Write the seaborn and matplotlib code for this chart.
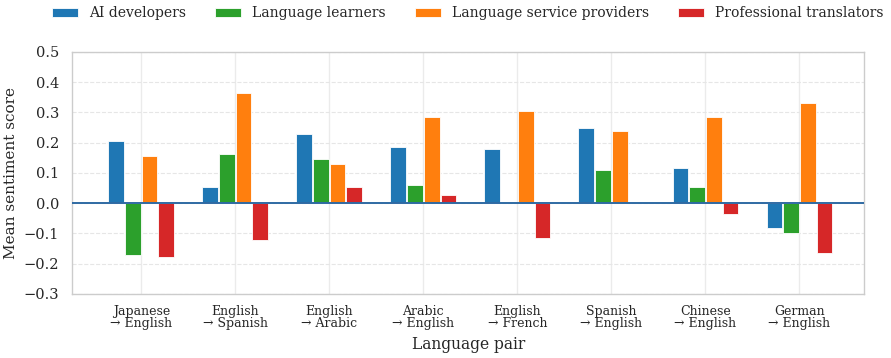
import numpy as np
import pandas as pd
import matplotlib
matplotlib.use("Agg")
import matplotlib.pyplot as plt
import seaborn as sns

pairs = ["Japanese\n→ English", "English\n→ Spanish", "English\n→ Arabic", "Arabic\n→ English",
         "English\n→ French", "Spanish\n→ English", "Chinese\n→ English", "German\n→ English"]
groups = ["AI developers", "Language learners", "Language service providers", "Professional translators"]
ai_dev = [0.205, 0.053, 0.228, 0.185, 0.180, 0.248, 0.115, -0.082]
learners = [-0.171, 0.161, 0.147, 0.060, np.nan, 0.110, 0.053, -0.098]
lsp = [0.156, 0.364, 0.131, 0.286, 0.304, 0.240, 0.285, 0.331]
translators = [-0.177, -0.123, 0.053, 0.026, -0.116, np.nan, -0.036, -0.164]
colors = ["#1f77b4", "#2ca02c", "#ff7f0e", "#d62728"]

rows = []
for g, vals in zip(groups, [ai_dev, learners, lsp, translators]):
    for p, v in zip(pairs, vals):
        rows.append({"pair": p, "group": g, "score": v})
df = pd.DataFrame(rows).dropna()

sns.set_theme(style="whitegrid")
plt.rcParams["font.family"] = ["DejaVu Serif"]

fig = plt.figure(figsize=(8.91, 3.58), dpi=100)
ax = fig.add_axes([0.081, 0.179, 0.889, 0.676])
sns.barplot(data=df, x="pair", y="score", hue="group", order=pairs, hue_order=groups,
            palette=colors, saturation=1, width=0.71, gap=0.06, edgecolor="white", linewidth=0.6,
            errorbar=None, ax=ax, zorder=3)
ax.axhline(0, color="#2f6aa3", lw=1.4, zorder=4)
ax.set_ylim(-0.3, 0.5)
ax.set_yticks(np.arange(-0.3, 0.51, 0.1))
ax.set_xlim(-0.735, 7.69)
ax.yaxis.grid(True, linestyle="--", color="#e6e6e6", lw=0.8)
ax.xaxis.grid(True, linestyle="-", color="#ebebeb", lw=1.0)
ax.set_axisbelow(True)
for s in ax.spines.values():
    s.set_color("#cccccc")
    s.set_linewidth(1.0)
ax.set_xlabel("Language pair", fontsize=11.2, labelpad=4)
ax.set_ylabel("Mean sentiment score", fontsize=11)
ax.tick_params(axis="x", labelsize=9, pad=2)
ax.tick_params(axis="y", labelsize=10.5)
for t in ax.get_xticklabels():
    t.set_linespacing(0.9)
ax.legend_.remove()
handles, labels = ax.get_legend_handles_labels()
fig.legend(handles[:4], labels[:4], loc="upper center", bbox_to_anchor=(0.525, 1.018), ncol=4,
           frameon=False, fontsize=10, columnspacing=2.1, handlelength=1.85, handleheight=0.6,
           handletextpad=0.8)
fig.savefig("out.png", dpi=100)
